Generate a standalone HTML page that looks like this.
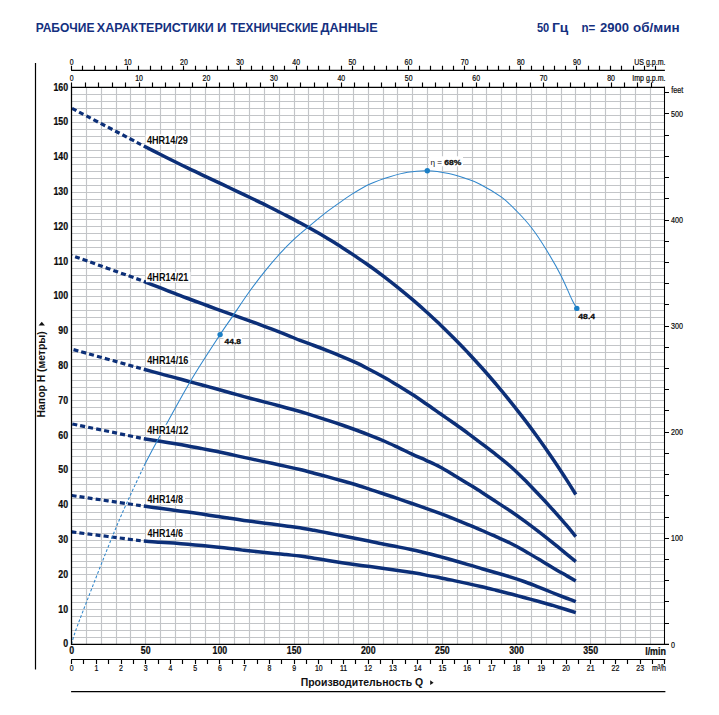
<!DOCTYPE html><html><head><meta charset="utf-8"><title>chart</title><style>html,body{margin:0;padding:0;background:#fff}svg{display:block}text{font-family:"Liberation Sans",sans-serif}</style></head><body>
<svg width="719" height="715" viewBox="0 0 719 715">
<rect width="719" height="715" fill="#fff"/>
<text x="35.70" y="31.8" font-size="13.2" font-weight="bold" fill="#14307f" textLength="58.80" lengthAdjust="spacingAndGlyphs">РАБОЧИЕ</text>
<text x="96.80" y="31.8" font-size="13.2" font-weight="bold" fill="#14307f" textLength="117.00" lengthAdjust="spacingAndGlyphs">ХАРАКТЕРИСТИКИ</text>
<text x="216.90" y="31.8" font-size="13.2" font-weight="bold" fill="#14307f" textLength="9.50" lengthAdjust="spacingAndGlyphs">И</text>
<text x="230.60" y="31.8" font-size="13.2" font-weight="bold" fill="#14307f" textLength="87.60" lengthAdjust="spacingAndGlyphs">ТЕХНИЧЕСКИЕ</text>
<text x="320.40" y="31.8" font-size="13.2" font-weight="bold" fill="#14307f" textLength="57.30" lengthAdjust="spacingAndGlyphs">ДАННЫЕ</text>
<text x="536.90" y="32" font-size="13.2" font-weight="bold" fill="#14307f" textLength="12.30" lengthAdjust="spacingAndGlyphs">50</text>
<text x="551.90" y="32" font-size="13.2" font-weight="bold" fill="#14307f" textLength="16.30" lengthAdjust="spacingAndGlyphs">Гц</text>
<text x="581.40" y="32" font-size="13.2" font-weight="bold" fill="#14307f" textLength="13.80" lengthAdjust="spacingAndGlyphs">n=</text>
<text x="600.10" y="32" font-size="13.2" font-weight="bold" fill="#14307f" textLength="29.00" lengthAdjust="spacingAndGlyphs">2900</text>
<text x="633.00" y="32" font-size="13.2" font-weight="bold" fill="#14307f" textLength="46.50" lengthAdjust="spacingAndGlyphs">об/мин</text>
<path d="M71.60 637.50H664.88M71.60 630.50H664.88M71.60 623.50H664.88M71.60 616.50H664.88M71.60 609.50H664.88M71.60 602.50H664.88M71.60 595.50H664.88M71.60 588.50H664.88M71.60 581.50H664.88M71.60 574.50H664.88M71.60 567.50H664.88M71.60 561.50H664.88M71.60 554.50H664.88M71.60 547.50H664.88M71.60 540.50H664.88M71.60 533.50H664.88M71.60 526.50H664.88M71.60 519.50H664.88M71.60 512.50H664.88M71.60 505.50H664.88M71.60 498.50H664.88M71.60 491.50H664.88M71.60 484.50H664.88M71.60 477.50H664.88M71.60 470.50H664.88M71.60 463.50H664.88M71.60 456.50H664.88M71.60 449.50H664.88M71.60 442.50H664.88M71.60 435.50H664.88M71.60 428.50H664.88M71.60 421.50H664.88M71.60 414.50H664.88M71.60 407.50H664.88M71.60 400.50H664.88M71.60 393.50H664.88M71.60 387.50H664.88M71.60 380.50H664.88M71.60 373.50H664.88M71.60 366.50H664.88M71.60 359.50H664.88M71.60 352.50H664.88M71.60 345.50H664.88M71.60 338.50H664.88M71.60 331.50H664.88M71.60 324.50H664.88M71.60 317.50H664.88M71.60 310.50H664.88M71.60 303.50H664.88M71.60 296.50H664.88M71.60 289.50H664.88M71.60 282.50H664.88M71.60 275.50H664.88M71.60 268.50H664.88M71.60 261.50H664.88M71.60 254.50H664.88M71.60 247.50H664.88M71.60 240.50H664.88M71.60 233.50H664.88M71.60 226.50H664.88M71.60 219.50H664.88M71.60 213.50H664.88M71.60 206.50H664.88M71.60 199.50H664.88M71.60 192.50H664.88M71.60 185.50H664.88M71.60 178.50H664.88M71.60 171.50H664.88M71.60 164.50H664.88M71.60 157.50H664.88M71.60 150.50H664.88M71.60 143.50H664.88M71.60 136.50H664.88M71.60 129.50H664.88M71.60 122.50H664.88M71.60 115.50H664.88M71.60 108.50H664.88M71.60 101.50H664.88M71.60 94.50H664.88M86.50 87.74V644.54M101.50 87.74V644.54M116.50 87.74V644.54M130.50 87.74V644.54M145.50 87.74V644.54M160.50 87.74V644.54M175.50 87.74V644.54M190.50 87.74V644.54M205.50 87.74V644.54M219.50 87.74V644.54M234.50 87.74V644.54M249.50 87.74V644.54M264.50 87.74V644.54M279.50 87.74V644.54M294.50 87.74V644.54M308.50 87.74V644.54M323.50 87.74V644.54M338.50 87.74V644.54M353.50 87.74V644.54M368.50 87.74V644.54M383.50 87.74V644.54M397.50 87.74V644.54M412.50 87.74V644.54M427.50 87.74V644.54M442.50 87.74V644.54M457.50 87.74V644.54M472.50 87.74V644.54M486.50 87.74V644.54M501.50 87.74V644.54M516.50 87.74V644.54M531.50 87.74V644.54M546.50 87.74V644.54M561.50 87.74V644.54M575.50 87.74V644.54M590.50 87.74V644.54M605.50 87.74V644.54M620.50 87.74V644.54M635.50 87.74V644.54M650.50 87.74V644.54" stroke="#c3c5c8" stroke-width="1.15" fill="none"/>
<path d="M35.5 63V669.6" stroke="#000" stroke-width="1.2"/>
<path d="M71.1 70.3H664.88M71.50 70.3v-4.5M82.50 70.3v-4.5M94.50 70.3v-4.5M105.50 70.3v-4.5M116.50 70.3v-4.5M127.50 70.3v-4.5M138.50 70.3v-4.5M150.50 70.3v-4.5M161.50 70.3v-4.5M172.50 70.3v-4.5M183.50 70.3v-4.5M195.50 70.3v-4.5M206.50 70.3v-4.5M217.50 70.3v-4.5M228.50 70.3v-4.5M240.50 70.3v-4.5M251.50 70.3v-4.5M262.50 70.3v-4.5M273.50 70.3v-4.5M284.50 70.3v-4.5M296.50 70.3v-4.5M307.50 70.3v-4.5M318.50 70.3v-4.5M329.50 70.3v-4.5M341.50 70.3v-4.5M352.50 70.3v-4.5M363.50 70.3v-4.5M374.50 70.3v-4.5M386.50 70.3v-4.5M397.50 70.3v-4.5M408.50 70.3v-4.5M419.50 70.3v-4.5M430.50 70.3v-4.5M442.50 70.3v-4.5M453.50 70.3v-4.5M464.50 70.3v-4.5M475.50 70.3v-4.5M487.50 70.3v-4.5M498.50 70.3v-4.5M509.50 70.3v-4.5M520.50 70.3v-4.5M531.50 70.3v-4.5M543.50 70.3v-4.5M554.50 70.3v-4.5M565.50 70.3v-4.5M576.50 70.3v-4.5M588.50 70.3v-4.5M599.50 70.3v-4.5M610.50 70.3v-4.5M621.50 70.3v-4.5M633.50 70.3v-4.5M644.50 70.3v-4.5M655.50 70.3v-4.5" stroke="#000" stroke-width="1.15" fill="none"/>
<path d="M71.50 87.45v-5.0M85.50 87.45v-5.0M98.50 87.45v-5.0M112.50 87.45v-5.0M125.50 87.45v-5.0M139.50 87.45v-5.0M152.50 87.45v-5.0M165.50 87.45v-5.0M179.50 87.45v-5.0M192.50 87.45v-5.0M206.50 87.45v-5.0M219.50 87.45v-5.0M233.50 87.45v-5.0M246.50 87.45v-5.0M260.50 87.45v-5.0M273.50 87.45v-5.0M287.50 87.45v-5.0M300.50 87.45v-5.0M314.50 87.45v-5.0M327.50 87.45v-5.0M341.50 87.45v-5.0M354.50 87.45v-5.0M368.50 87.45v-5.0M381.50 87.45v-5.0M395.50 87.45v-5.0M408.50 87.45v-5.0M422.50 87.45v-5.0M435.50 87.45v-5.0M449.50 87.45v-5.0M462.50 87.45v-5.0M476.50 87.45v-5.0M489.50 87.45v-5.0M503.50 87.45v-5.0M516.50 87.45v-5.0M530.50 87.45v-5.0M543.50 87.45v-5.0M557.50 87.45v-5.0M570.50 87.45v-5.0M584.50 87.45v-5.0M597.50 87.45v-5.0M611.50 87.45v-5.0M624.50 87.45v-5.0M637.50 87.45v-5.0M651.50 87.45v-5.0" stroke="#000" stroke-width="1.15" fill="none"/>
<path d="M664.5 644.50h4.5M664.5 623.50h4.5M664.5 601.50h4.5M664.5 580.50h4.5M664.5 559.50h4.5M664.5 538.50h4.5M664.5 517.50h4.5M664.5 495.50h4.5M664.5 474.50h4.5M664.5 453.50h4.5M664.5 432.50h4.5M664.5 410.50h4.5M664.5 389.50h4.5M664.5 368.50h4.5M664.5 347.50h4.5M664.5 326.50h4.5M664.5 304.50h4.5M664.5 283.50h4.5M664.5 262.50h4.5M664.5 241.50h4.5M664.5 220.50h4.5M664.5 198.50h4.5M664.5 177.50h4.5M664.5 156.50h4.5M664.5 135.50h4.5M664.5 113.50h4.5M664.5 92.50h4.5" stroke="#000" stroke-width="1.15" fill="none"/>
<path d="M71.1 659.5H665.38M71.50 659.5v4.5M83.50 659.5v4.5M96.50 659.5v4.5M108.50 659.5v4.5M121.50 659.5v4.5M133.50 659.5v4.5M145.50 659.5v4.5M158.50 659.5v4.5M170.50 659.5v4.5M182.50 659.5v4.5M195.50 659.5v4.5M207.50 659.5v4.5M219.50 659.5v4.5M232.50 659.5v4.5M244.50 659.5v4.5M257.50 659.5v4.5M269.50 659.5v4.5M281.50 659.5v4.5M294.50 659.5v4.5M306.50 659.5v4.5M318.50 659.5v4.5M331.50 659.5v4.5M343.50 659.5v4.5M355.50 659.5v4.5M368.50 659.5v4.5M380.50 659.5v4.5M392.50 659.5v4.5M405.50 659.5v4.5M417.50 659.5v4.5M430.50 659.5v4.5M442.50 659.5v4.5M454.50 659.5v4.5M467.50 659.5v4.5M479.50 659.5v4.5M491.50 659.5v4.5M504.50 659.5v4.5M516.50 659.5v4.5M528.50 659.5v4.5M541.50 659.5v4.5M553.50 659.5v4.5M566.50 659.5v4.5M578.50 659.5v4.5M590.50 659.5v4.5M603.50 659.5v4.5M615.50 659.5v4.5M627.50 659.5v4.5M640.50 659.5v4.5M652.50 659.5v4.5M664.50 659.5v4.5" stroke="#000" stroke-width="1.15" fill="none"/>
<path d="M71.1 691.6H665.38" stroke="#000" stroke-width="1.1"/>
<text transform="translate(68.10 646.80) scale(0.84 1)" font-size="10.5" font-weight="bold" text-anchor="end" fill="#0a0a0a" stroke="#0a0a0a" stroke-width="0.22">0</text>
<text transform="translate(68.10 612.64) scale(0.84 1)" font-size="10.5" font-weight="bold" text-anchor="end" fill="#0a0a0a" stroke="#0a0a0a" stroke-width="0.22">10</text>
<text transform="translate(68.10 577.84) scale(0.84 1)" font-size="10.5" font-weight="bold" text-anchor="end" fill="#0a0a0a" stroke="#0a0a0a" stroke-width="0.22">20</text>
<text transform="translate(68.10 543.04) scale(0.84 1)" font-size="10.5" font-weight="bold" text-anchor="end" fill="#0a0a0a" stroke="#0a0a0a" stroke-width="0.22">30</text>
<text transform="translate(68.10 508.24) scale(0.84 1)" font-size="10.5" font-weight="bold" text-anchor="end" fill="#0a0a0a" stroke="#0a0a0a" stroke-width="0.22">40</text>
<text transform="translate(68.10 473.44) scale(0.84 1)" font-size="10.5" font-weight="bold" text-anchor="end" fill="#0a0a0a" stroke="#0a0a0a" stroke-width="0.22">50</text>
<text transform="translate(68.10 438.64) scale(0.84 1)" font-size="10.5" font-weight="bold" text-anchor="end" fill="#0a0a0a" stroke="#0a0a0a" stroke-width="0.22">60</text>
<text transform="translate(68.10 403.84) scale(0.84 1)" font-size="10.5" font-weight="bold" text-anchor="end" fill="#0a0a0a" stroke="#0a0a0a" stroke-width="0.22">70</text>
<text transform="translate(68.10 369.04) scale(0.84 1)" font-size="10.5" font-weight="bold" text-anchor="end" fill="#0a0a0a" stroke="#0a0a0a" stroke-width="0.22">80</text>
<text transform="translate(68.10 334.24) scale(0.84 1)" font-size="10.5" font-weight="bold" text-anchor="end" fill="#0a0a0a" stroke="#0a0a0a" stroke-width="0.22">90</text>
<text transform="translate(68.10 299.44) scale(0.84 1)" font-size="10.5" font-weight="bold" text-anchor="end" fill="#0a0a0a" stroke="#0a0a0a" stroke-width="0.22">100</text>
<text transform="translate(68.10 264.64) scale(0.84 1)" font-size="10.5" font-weight="bold" text-anchor="end" fill="#0a0a0a" stroke="#0a0a0a" stroke-width="0.22">110</text>
<text transform="translate(68.10 229.84) scale(0.84 1)" font-size="10.5" font-weight="bold" text-anchor="end" fill="#0a0a0a" stroke="#0a0a0a" stroke-width="0.22">120</text>
<text transform="translate(68.10 195.04) scale(0.84 1)" font-size="10.5" font-weight="bold" text-anchor="end" fill="#0a0a0a" stroke="#0a0a0a" stroke-width="0.22">130</text>
<text transform="translate(68.10 160.24) scale(0.84 1)" font-size="10.5" font-weight="bold" text-anchor="end" fill="#0a0a0a" stroke="#0a0a0a" stroke-width="0.22">140</text>
<text transform="translate(68.10 125.44) scale(0.84 1)" font-size="10.5" font-weight="bold" text-anchor="end" fill="#0a0a0a" stroke="#0a0a0a" stroke-width="0.22">150</text>
<text transform="translate(68.10 90.64) scale(0.84 1)" font-size="10.5" font-weight="bold" text-anchor="end" fill="#0a0a0a" stroke="#0a0a0a" stroke-width="0.22">160</text>
<text transform="translate(71.60 653.80) scale(0.84 1)" font-size="10.5" font-weight="bold" text-anchor="middle" fill="#0a0a0a" stroke="#0a0a0a" stroke-width="0.22">0</text>
<text transform="translate(145.76 653.80) scale(0.84 1)" font-size="10.5" font-weight="bold" text-anchor="middle" fill="#0a0a0a" stroke="#0a0a0a" stroke-width="0.22">50</text>
<text transform="translate(219.92 653.80) scale(0.84 1)" font-size="10.5" font-weight="bold" text-anchor="middle" fill="#0a0a0a" stroke="#0a0a0a" stroke-width="0.22">100</text>
<text transform="translate(294.08 653.80) scale(0.84 1)" font-size="10.5" font-weight="bold" text-anchor="middle" fill="#0a0a0a" stroke="#0a0a0a" stroke-width="0.22">150</text>
<text transform="translate(368.24 653.80) scale(0.84 1)" font-size="10.5" font-weight="bold" text-anchor="middle" fill="#0a0a0a" stroke="#0a0a0a" stroke-width="0.22">200</text>
<text transform="translate(442.40 653.80) scale(0.84 1)" font-size="10.5" font-weight="bold" text-anchor="middle" fill="#0a0a0a" stroke="#0a0a0a" stroke-width="0.22">250</text>
<text transform="translate(516.56 653.80) scale(0.84 1)" font-size="10.5" font-weight="bold" text-anchor="middle" fill="#0a0a0a" stroke="#0a0a0a" stroke-width="0.22">300</text>
<text transform="translate(590.72 653.80) scale(0.84 1)" font-size="10.5" font-weight="bold" text-anchor="middle" fill="#0a0a0a" stroke="#0a0a0a" stroke-width="0.22">350</text>
<text transform="translate(666.00 654.60) scale(0.86 1)" font-size="10.4" font-weight="bold" text-anchor="end" fill="#0a0a0a" stroke="#0a0a0a" stroke-width="0.22">l/min</text>
<text transform="translate(71.60 64.80) scale(0.82 1)" font-size="8.5" font-weight="normal" text-anchor="middle" fill="#0a0a0a" stroke="#0a0a0a" stroke-width="0.22">0</text>
<text transform="translate(127.75 64.80) scale(0.82 1)" font-size="8.5" font-weight="normal" text-anchor="middle" fill="#0a0a0a" stroke="#0a0a0a" stroke-width="0.22">10</text>
<text transform="translate(183.89 64.80) scale(0.82 1)" font-size="8.5" font-weight="normal" text-anchor="middle" fill="#0a0a0a" stroke="#0a0a0a" stroke-width="0.22">20</text>
<text transform="translate(240.04 64.80) scale(0.82 1)" font-size="8.5" font-weight="normal" text-anchor="middle" fill="#0a0a0a" stroke="#0a0a0a" stroke-width="0.22">30</text>
<text transform="translate(296.18 64.80) scale(0.82 1)" font-size="8.5" font-weight="normal" text-anchor="middle" fill="#0a0a0a" stroke="#0a0a0a" stroke-width="0.22">40</text>
<text transform="translate(352.33 64.80) scale(0.82 1)" font-size="8.5" font-weight="normal" text-anchor="middle" fill="#0a0a0a" stroke="#0a0a0a" stroke-width="0.22">50</text>
<text transform="translate(408.47 64.80) scale(0.82 1)" font-size="8.5" font-weight="normal" text-anchor="middle" fill="#0a0a0a" stroke="#0a0a0a" stroke-width="0.22">60</text>
<text transform="translate(464.62 64.80) scale(0.82 1)" font-size="8.5" font-weight="normal" text-anchor="middle" fill="#0a0a0a" stroke="#0a0a0a" stroke-width="0.22">70</text>
<text transform="translate(520.76 64.80) scale(0.82 1)" font-size="8.5" font-weight="normal" text-anchor="middle" fill="#0a0a0a" stroke="#0a0a0a" stroke-width="0.22">80</text>
<text transform="translate(576.91 64.80) scale(0.82 1)" font-size="8.5" font-weight="normal" text-anchor="middle" fill="#0a0a0a" stroke="#0a0a0a" stroke-width="0.22">90</text>
<text transform="translate(665.50 64.80) scale(0.84 1)" font-size="8.4" font-weight="normal" text-anchor="end" fill="#0a0a0a" stroke="#0a0a0a" stroke-width="0.22">US g.p.m.</text>
<text transform="translate(71.60 80.80) scale(0.82 1)" font-size="8.5" font-weight="normal" text-anchor="middle" fill="#0a0a0a" stroke="#0a0a0a" stroke-width="0.22">0</text>
<text transform="translate(139.03 80.80) scale(0.82 1)" font-size="8.5" font-weight="normal" text-anchor="middle" fill="#0a0a0a" stroke="#0a0a0a" stroke-width="0.22">10</text>
<text transform="translate(206.45 80.80) scale(0.82 1)" font-size="8.5" font-weight="normal" text-anchor="middle" fill="#0a0a0a" stroke="#0a0a0a" stroke-width="0.22">20</text>
<text transform="translate(273.88 80.80) scale(0.82 1)" font-size="8.5" font-weight="normal" text-anchor="middle" fill="#0a0a0a" stroke="#0a0a0a" stroke-width="0.22">30</text>
<text transform="translate(341.31 80.80) scale(0.82 1)" font-size="8.5" font-weight="normal" text-anchor="middle" fill="#0a0a0a" stroke="#0a0a0a" stroke-width="0.22">40</text>
<text transform="translate(408.73 80.80) scale(0.82 1)" font-size="8.5" font-weight="normal" text-anchor="middle" fill="#0a0a0a" stroke="#0a0a0a" stroke-width="0.22">50</text>
<text transform="translate(476.16 80.80) scale(0.82 1)" font-size="8.5" font-weight="normal" text-anchor="middle" fill="#0a0a0a" stroke="#0a0a0a" stroke-width="0.22">60</text>
<text transform="translate(543.58 80.80) scale(0.82 1)" font-size="8.5" font-weight="normal" text-anchor="middle" fill="#0a0a0a" stroke="#0a0a0a" stroke-width="0.22">70</text>
<text transform="translate(611.01 80.80) scale(0.82 1)" font-size="8.5" font-weight="normal" text-anchor="middle" fill="#0a0a0a" stroke="#0a0a0a" stroke-width="0.22">80</text>
<text transform="translate(665.50 80.90) scale(0.84 1)" font-size="8.4" font-weight="normal" text-anchor="end" fill="#0a0a0a" stroke="#0a0a0a" stroke-width="0.22">Imp g.p.m.</text>
<text transform="translate(71.60 671.00) scale(0.82 1)" font-size="8.5" font-weight="normal" text-anchor="middle" fill="#0a0a0a" stroke="#0a0a0a" stroke-width="0.22">0</text>
<text transform="translate(96.32 671.00) scale(0.82 1)" font-size="8.5" font-weight="normal" text-anchor="middle" fill="#0a0a0a" stroke="#0a0a0a" stroke-width="0.22">1</text>
<text transform="translate(121.04 671.00) scale(0.82 1)" font-size="8.5" font-weight="normal" text-anchor="middle" fill="#0a0a0a" stroke="#0a0a0a" stroke-width="0.22">2</text>
<text transform="translate(145.76 671.00) scale(0.82 1)" font-size="8.5" font-weight="normal" text-anchor="middle" fill="#0a0a0a" stroke="#0a0a0a" stroke-width="0.22">3</text>
<text transform="translate(170.48 671.00) scale(0.82 1)" font-size="8.5" font-weight="normal" text-anchor="middle" fill="#0a0a0a" stroke="#0a0a0a" stroke-width="0.22">4</text>
<text transform="translate(195.20 671.00) scale(0.82 1)" font-size="8.5" font-weight="normal" text-anchor="middle" fill="#0a0a0a" stroke="#0a0a0a" stroke-width="0.22">5</text>
<text transform="translate(219.92 671.00) scale(0.82 1)" font-size="8.5" font-weight="normal" text-anchor="middle" fill="#0a0a0a" stroke="#0a0a0a" stroke-width="0.22">6</text>
<text transform="translate(244.64 671.00) scale(0.82 1)" font-size="8.5" font-weight="normal" text-anchor="middle" fill="#0a0a0a" stroke="#0a0a0a" stroke-width="0.22">7</text>
<text transform="translate(269.36 671.00) scale(0.82 1)" font-size="8.5" font-weight="normal" text-anchor="middle" fill="#0a0a0a" stroke="#0a0a0a" stroke-width="0.22">8</text>
<text transform="translate(294.08 671.00) scale(0.82 1)" font-size="8.5" font-weight="normal" text-anchor="middle" fill="#0a0a0a" stroke="#0a0a0a" stroke-width="0.22">9</text>
<text transform="translate(318.80 671.00) scale(0.82 1)" font-size="8.5" font-weight="normal" text-anchor="middle" fill="#0a0a0a" stroke="#0a0a0a" stroke-width="0.22">10</text>
<text transform="translate(343.52 671.00) scale(0.82 1)" font-size="8.5" font-weight="normal" text-anchor="middle" fill="#0a0a0a" stroke="#0a0a0a" stroke-width="0.22">11</text>
<text transform="translate(368.24 671.00) scale(0.82 1)" font-size="8.5" font-weight="normal" text-anchor="middle" fill="#0a0a0a" stroke="#0a0a0a" stroke-width="0.22">12</text>
<text transform="translate(392.96 671.00) scale(0.82 1)" font-size="8.5" font-weight="normal" text-anchor="middle" fill="#0a0a0a" stroke="#0a0a0a" stroke-width="0.22">13</text>
<text transform="translate(417.68 671.00) scale(0.82 1)" font-size="8.5" font-weight="normal" text-anchor="middle" fill="#0a0a0a" stroke="#0a0a0a" stroke-width="0.22">14</text>
<text transform="translate(442.40 671.00) scale(0.82 1)" font-size="8.5" font-weight="normal" text-anchor="middle" fill="#0a0a0a" stroke="#0a0a0a" stroke-width="0.22">15</text>
<text transform="translate(467.12 671.00) scale(0.82 1)" font-size="8.5" font-weight="normal" text-anchor="middle" fill="#0a0a0a" stroke="#0a0a0a" stroke-width="0.22">16</text>
<text transform="translate(491.84 671.00) scale(0.82 1)" font-size="8.5" font-weight="normal" text-anchor="middle" fill="#0a0a0a" stroke="#0a0a0a" stroke-width="0.22">17</text>
<text transform="translate(516.56 671.00) scale(0.82 1)" font-size="8.5" font-weight="normal" text-anchor="middle" fill="#0a0a0a" stroke="#0a0a0a" stroke-width="0.22">18</text>
<text transform="translate(541.28 671.00) scale(0.82 1)" font-size="8.5" font-weight="normal" text-anchor="middle" fill="#0a0a0a" stroke="#0a0a0a" stroke-width="0.22">19</text>
<text transform="translate(566.00 671.00) scale(0.82 1)" font-size="8.5" font-weight="normal" text-anchor="middle" fill="#0a0a0a" stroke="#0a0a0a" stroke-width="0.22">20</text>
<text transform="translate(590.72 671.00) scale(0.82 1)" font-size="8.5" font-weight="normal" text-anchor="middle" fill="#0a0a0a" stroke="#0a0a0a" stroke-width="0.22">21</text>
<text transform="translate(615.44 671.00) scale(0.82 1)" font-size="8.5" font-weight="normal" text-anchor="middle" fill="#0a0a0a" stroke="#0a0a0a" stroke-width="0.22">22</text>
<text transform="translate(640.16 671.00) scale(0.82 1)" font-size="8.5" font-weight="normal" text-anchor="middle" fill="#0a0a0a" stroke="#0a0a0a" stroke-width="0.22">23</text>
<text transform="translate(666.00 671.00) scale(0.8 1)" font-size="8.8" font-weight="normal" text-anchor="end" fill="#0a0a0a" stroke="#0a0a0a" stroke-width="0.22">m³/h</text>
<text transform="translate(671.00 648.34) scale(0.81 1)" font-size="8.8" font-weight="normal" text-anchor="start" fill="#0a0a0a" stroke="#0a0a0a" stroke-width="0.22">0</text>
<text transform="translate(671.00 541.07) scale(0.81 1)" font-size="8.8" font-weight="normal" text-anchor="start" fill="#0a0a0a" stroke="#0a0a0a" stroke-width="0.22">100</text>
<text transform="translate(671.00 435.00) scale(0.81 1)" font-size="8.8" font-weight="normal" text-anchor="start" fill="#0a0a0a" stroke="#0a0a0a" stroke-width="0.22">200</text>
<text transform="translate(671.00 328.93) scale(0.81 1)" font-size="8.8" font-weight="normal" text-anchor="start" fill="#0a0a0a" stroke="#0a0a0a" stroke-width="0.22">300</text>
<text transform="translate(671.00 222.86) scale(0.81 1)" font-size="8.8" font-weight="normal" text-anchor="start" fill="#0a0a0a" stroke="#0a0a0a" stroke-width="0.22">400</text>
<text transform="translate(671.00 116.79) scale(0.81 1)" font-size="8.8" font-weight="normal" text-anchor="start" fill="#0a0a0a" stroke="#0a0a0a" stroke-width="0.22">500</text>
<text transform="translate(671.20 92.90) scale(0.78 1)" font-size="9.2" font-weight="normal" text-anchor="start" fill="#0a0a0a" stroke="#0a0a0a" stroke-width="0.22">feet</text>
<text transform="translate(44.7 417.4) rotate(-90)" font-size="10.2" font-weight="bold" fill="#111" textLength="86" lengthAdjust="spacingAndGlyphs">Напор H (метры)</text>
<path d="M38.6 325.4L44.9 325.4L41.75 321.8Z" fill="#111"/>
<text x="300.7" y="686.1" font-size="10.4" font-weight="bold" fill="#111" textLength="122.4" lengthAdjust="spacingAndGlyphs">Производительность Q</text>
<path d="M430.2 680.3L430.2 685.1L433.6 682.7Z" fill="#111"/>
<path d="M143.8 146.0C131.8 139.7 83.8 114.5 71.8 108.3" stroke="#0c2f78" stroke-width="3.2" fill="none" stroke-dasharray="5 3.1" stroke-dashoffset="5"/>
<path d="M143.8 146.0C146.5 147.4 155.0 151.7 160.0 154.3C165.0 156.8 169.3 159.0 174.0 161.3C178.7 163.6 183.3 165.8 188.0 168.1C192.7 170.3 197.3 172.6 202.0 174.8C206.7 177.0 211.3 179.2 216.0 181.4C220.7 183.6 225.3 185.8 230.0 188.0C234.7 190.2 239.3 192.4 244.0 194.6C248.7 196.9 253.3 199.1 258.0 201.4C262.7 203.6 267.3 205.9 272.0 208.2C276.7 210.6 281.3 212.9 286.0 215.4C290.7 217.8 295.3 220.3 300.0 222.8C304.7 225.3 309.3 227.9 314.0 230.6C318.7 233.2 323.3 235.9 328.0 238.7C332.7 241.6 337.3 244.4 342.0 247.4C346.7 250.4 351.3 253.4 356.0 256.6C360.7 259.7 365.3 263.0 370.0 266.3C374.7 269.7 379.3 273.1 384.0 276.6C388.7 280.2 393.3 283.8 398.0 287.6C402.7 291.4 407.3 295.2 412.0 299.2C416.7 303.2 421.3 307.3 426.0 311.5C430.7 315.7 435.3 320.1 440.0 324.5C444.7 329.0 449.3 333.6 454.0 338.3C458.7 343.0 463.3 347.8 468.0 352.7C472.7 357.7 477.3 362.8 482.0 368.0C486.7 373.2 491.3 378.6 496.0 384.1C500.7 389.6 505.3 395.2 510.0 401.1C514.7 406.9 519.3 412.8 524.0 418.9C528.7 425.0 533.3 431.3 538.0 437.8C542.7 444.3 547.3 450.9 552.0 457.8C556.7 464.6 562.0 472.8 566.0 478.9C570.0 485.1 574.2 491.9 575.8 494.5" stroke="#0c2f78" stroke-width="3.5" fill="none"/>
<path d="M143.8 281.3C131.8 277.0 83.8 259.8 71.8 255.5" stroke="#0c2f78" stroke-width="3.2" fill="none" stroke-dasharray="5 3.1" stroke-dashoffset="5"/>
<path d="M143.8 281.3C146.5 282.4 155.0 285.8 160.0 287.7C165.0 289.7 169.3 291.4 174.0 293.2C178.7 295.0 183.3 296.8 188.0 298.5C192.7 300.3 197.3 302.0 202.0 303.7C206.7 305.4 211.3 307.1 216.0 308.8C220.7 310.5 225.3 312.1 230.0 313.8C234.7 315.5 239.3 317.1 244.0 318.8C248.7 320.5 253.3 322.2 258.0 323.9C262.7 325.7 267.3 327.4 272.0 329.2C276.7 331.0 281.3 332.8 286.0 334.7C290.7 336.5 295.3 338.5 300.0 340.3C304.7 342.1 309.3 343.7 314.0 345.5C318.7 347.2 323.3 349.0 328.0 350.9C332.7 352.7 337.3 354.6 342.0 356.6C346.7 358.5 351.3 360.5 356.0 362.7C360.7 364.9 365.3 367.3 370.0 369.7C374.7 372.1 379.3 374.6 384.0 377.2C388.7 379.8 393.3 382.7 398.0 385.5C402.7 388.4 407.3 391.3 412.0 394.3C416.7 397.3 421.3 400.5 426.0 403.7C430.7 406.9 435.3 410.2 440.0 413.5C444.7 416.8 449.3 419.9 454.0 423.2C458.7 426.5 463.3 429.9 468.0 433.3C472.7 436.8 477.3 440.4 482.0 443.9C486.7 447.5 491.3 450.9 496.0 454.6C500.7 458.3 505.3 461.9 510.0 466.0C514.7 470.1 519.3 474.6 524.0 479.3C528.7 483.9 533.3 488.9 538.0 493.8C542.7 498.7 547.3 503.6 552.0 508.8C556.7 513.9 562.0 520.1 566.0 524.7C570.0 529.4 574.2 534.7 575.8 536.7" stroke="#0c2f78" stroke-width="3.5" fill="none"/>
<path d="M143.8 369.3C131.8 365.9 83.8 352.5 71.8 349.1" stroke="#0c2f78" stroke-width="3.2" fill="none" stroke-dasharray="5 3.1" stroke-dashoffset="5"/>
<path d="M143.8 369.3C146.5 370.0 155.0 372.3 160.0 373.6C165.0 375.0 169.3 376.2 174.0 377.4C178.7 378.7 183.3 379.9 188.0 381.2C192.7 382.5 197.3 383.7 202.0 385.0C206.7 386.3 211.3 387.5 216.0 388.8C220.7 390.1 225.3 391.4 230.0 392.7C234.7 394.0 239.3 395.3 244.0 396.6C248.7 397.8 253.3 399.1 258.0 400.3C262.7 401.5 267.3 402.7 272.0 403.9C276.7 405.2 281.3 406.4 286.0 407.7C290.7 408.9 295.3 410.1 300.0 411.5C304.7 412.9 309.3 414.4 314.0 415.8C318.7 417.3 323.3 418.8 328.0 420.3C332.7 421.9 337.3 423.4 342.0 425.0C346.7 426.7 351.3 428.3 356.0 430.0C360.7 431.7 365.3 433.5 370.0 435.4C374.7 437.2 379.3 439.0 384.0 441.0C388.7 443.0 393.3 445.2 398.0 447.4C402.7 449.6 407.3 451.9 412.0 454.1C416.7 456.3 421.3 458.2 426.0 460.3C430.7 462.5 435.3 464.5 440.0 467.0C444.7 469.5 449.3 472.4 454.0 475.2C458.7 478.0 463.3 480.9 468.0 483.7C472.7 486.6 477.3 489.4 482.0 492.4C486.7 495.4 491.3 498.5 496.0 501.6C500.7 504.6 505.3 507.7 510.0 510.8C514.7 514.0 519.3 517.2 524.0 520.6C528.7 524.0 533.3 527.5 538.0 531.1C542.7 534.7 547.3 538.4 552.0 542.2C556.7 545.9 562.0 550.4 566.0 553.6C570.0 556.8 574.2 560.3 575.8 561.6" stroke="#0c2f78" stroke-width="3.5" fill="none"/>
<path d="M143.8 438.7C131.8 436.2 83.8 426.4 71.8 423.9" stroke="#0c2f78" stroke-width="3.2" fill="none" stroke-dasharray="5 3.1" stroke-dashoffset="5"/>
<path d="M143.8 438.7C146.5 439.1 155.0 440.4 160.0 441.2C165.0 442.0 169.3 442.7 174.0 443.5C178.7 444.3 183.3 445.1 188.0 446.0C192.7 446.8 197.3 447.7 202.0 448.6C206.7 449.5 211.3 450.4 216.0 451.3C220.7 452.3 225.3 453.3 230.0 454.3C234.7 455.3 239.3 456.4 244.0 457.4C248.7 458.4 253.3 459.4 258.0 460.4C262.7 461.4 267.3 462.3 272.0 463.3C276.7 464.3 281.3 465.3 286.0 466.4C290.7 467.4 295.3 468.4 300.0 469.5C304.7 470.6 309.3 471.9 314.0 473.2C318.7 474.4 323.3 475.7 328.0 476.9C332.7 478.2 337.3 479.5 342.0 480.8C346.7 482.1 351.3 483.4 356.0 484.8C360.7 486.2 365.3 487.8 370.0 489.3C374.7 490.8 379.3 492.4 384.0 494.0C388.7 495.5 393.3 497.0 398.0 498.6C402.7 500.2 407.3 501.9 412.0 503.5C416.7 505.1 421.3 506.7 426.0 508.3C430.7 510.0 435.3 511.7 440.0 513.4C444.7 515.1 449.3 516.9 454.0 518.8C458.7 520.7 463.3 522.6 468.0 524.6C472.7 526.5 477.3 528.5 482.0 530.5C486.7 532.5 491.3 534.6 496.0 536.7C500.7 538.8 505.3 540.7 510.0 543.0C514.7 545.3 519.3 547.8 524.0 550.5C528.7 553.1 533.3 556.1 538.0 558.8C542.7 561.6 547.3 564.5 552.0 567.2C556.7 570.0 562.0 573.0 566.0 575.3C570.0 577.6 574.2 580.1 575.8 581.0" stroke="#0c2f78" stroke-width="3.5" fill="none"/>
<path d="M143.8 506.1C131.8 504.4 83.8 497.3 71.8 495.5" stroke="#0c2f78" stroke-width="3.2" fill="none" stroke-dasharray="5 3.1" stroke-dashoffset="5"/>
<path d="M143.8 506.1C146.5 506.5 155.0 507.6 160.0 508.3C165.0 509.0 169.3 509.6 174.0 510.2C178.7 510.8 183.3 511.5 188.0 512.1C192.7 512.8 197.3 513.4 202.0 514.1C206.7 514.8 211.3 515.5 216.0 516.2C220.7 516.8 225.3 517.5 230.0 518.2C234.7 518.9 239.3 519.7 244.0 520.4C248.7 521.0 253.3 521.7 258.0 522.3C262.7 522.9 267.3 523.5 272.0 524.1C276.7 524.7 281.3 525.3 286.0 525.9C290.7 526.5 295.3 527.0 300.0 527.7C304.7 528.5 309.3 529.4 314.0 530.3C318.7 531.2 323.3 532.1 328.0 533.0C332.7 533.9 337.3 534.8 342.0 535.7C346.7 536.6 351.3 537.5 356.0 538.5C360.7 539.4 365.3 540.3 370.0 541.3C374.7 542.3 379.3 543.3 384.0 544.2C388.7 545.2 393.3 546.0 398.0 546.9C402.7 547.8 407.3 548.7 412.0 549.7C416.7 550.7 421.3 551.9 426.0 553.0C430.7 554.2 435.3 555.3 440.0 556.6C444.7 557.9 449.3 559.2 454.0 560.5C458.7 561.9 463.3 563.2 468.0 564.6C472.7 565.9 477.3 567.3 482.0 568.7C486.7 570.1 491.3 571.4 496.0 572.8C500.7 574.1 505.3 575.4 510.0 576.9C514.7 578.3 519.3 579.8 524.0 581.5C528.7 583.2 533.3 585.0 538.0 586.8C542.7 588.7 547.3 590.6 552.0 592.5C556.7 594.3 562.0 596.4 566.0 598.0C570.0 599.5 574.2 601.0 575.8 601.7" stroke="#0c2f78" stroke-width="3.5" fill="none"/>
<path d="M143.8 541.1C131.8 539.6 83.8 533.4 71.8 531.9" stroke="#0c2f78" stroke-width="3.2" fill="none" stroke-dasharray="5 3.1" stroke-dashoffset="5"/>
<path d="M143.8 541.1C146.5 541.3 155.0 541.8 160.0 542.2C165.0 542.5 169.3 542.8 174.0 543.1C178.7 543.5 183.3 543.9 188.0 544.3C192.7 544.7 197.3 545.1 202.0 545.5C206.7 546.0 211.3 546.5 216.0 547.0C220.7 547.5 225.3 548.0 230.0 548.6C234.7 549.1 239.3 549.7 244.0 550.3C248.7 550.8 253.3 551.3 258.0 551.8C262.7 552.3 267.3 552.7 272.0 553.2C276.7 553.6 281.3 554.1 286.0 554.6C290.7 555.1 295.3 555.4 300.0 556.0C304.7 556.6 309.3 557.5 314.0 558.2C318.7 559.0 323.3 559.7 328.0 560.5C332.7 561.2 337.3 561.9 342.0 562.7C346.7 563.4 351.3 564.1 356.0 564.8C360.7 565.4 365.3 566.0 370.0 566.6C374.7 567.2 379.3 567.8 384.0 568.4C388.7 569.1 393.3 569.8 398.0 570.5C402.7 571.2 407.3 571.9 412.0 572.6C416.7 573.4 421.3 574.2 426.0 575.1C430.7 575.9 435.3 576.8 440.0 577.7C444.7 578.6 449.3 579.6 454.0 580.6C458.7 581.6 463.3 582.6 468.0 583.6C472.7 584.6 477.3 585.6 482.0 586.7C486.7 587.8 491.3 589.0 496.0 590.2C500.7 591.4 505.3 592.5 510.0 593.7C514.7 594.9 519.3 596.2 524.0 597.5C528.7 598.8 533.3 600.0 538.0 601.3C542.7 602.6 547.3 603.9 552.0 605.2C556.7 606.6 562.0 608.3 566.0 609.5C570.0 610.8 574.2 612.1 575.8 612.6" stroke="#0c2f78" stroke-width="3.5" fill="none"/>
<path d="M71.5 644.3C72.8 640.2 72.2 639.4 79.6 620.0C87.0 600.6 105.3 553.4 116.0 527.7C126.7 502.0 139.3 476.3 144.0 466.0" stroke="#2f86cc" stroke-width="1.05" fill="none" stroke-dasharray="2.8 1.9"/>
<path d="M144.0 466.0C146.3 461.6 150.3 453.6 158.0 439.6C165.7 425.6 179.7 399.5 190.0 382.0C200.3 364.5 213.0 345.5 220.1 334.6C227.2 323.7 227.6 323.7 232.4 316.6C237.2 309.5 243.8 299.4 249.1 292.0C254.4 284.6 259.3 278.2 264.4 271.9C269.4 265.6 274.5 259.6 279.4 254.2C284.3 248.8 289.1 243.9 293.9 239.4C298.7 234.9 303.5 231.0 308.4 226.9C313.2 222.8 318.0 218.7 323.0 214.8C328.0 210.9 333.6 207.0 338.6 203.4C343.6 199.8 348.0 196.6 353.2 193.4C358.4 190.2 363.9 186.8 370.0 184.0C376.1 181.2 383.7 178.6 390.0 176.7C396.3 174.8 401.4 173.3 407.6 172.3C413.8 171.3 420.5 170.6 427.3 170.8C434.1 171.0 442.4 172.3 448.7 173.6C455.0 174.8 459.8 176.5 465.0 178.3C470.2 180.1 473.9 181.0 480.0 184.2C486.1 187.3 495.4 192.7 501.5 197.2C507.6 201.7 511.5 205.8 516.6 211.0C521.7 216.2 526.9 221.7 531.9 228.2C536.9 234.7 541.7 242.2 546.6 250.2C551.5 258.2 557.1 267.9 561.3 276.2C565.5 284.5 569.4 294.4 572.0 299.8C574.6 305.2 576.0 306.9 576.8 308.3" stroke="#2f86cc" stroke-width="1.05" fill="none"/>
<circle cx="220.1" cy="334.6" r="2.7" fill="#1b7fc6"/>
<circle cx="427.3" cy="170.8" r="2.7" fill="#1b7fc6"/>
<circle cx="576.8" cy="308.4" r="2.7" fill="#1b7fc6"/>
<path d="M71.50 86.85V644.90M71.6 87.45H665M71.6 644.3H669" stroke="#000" stroke-width="1.25" fill="none"/><path d="M664.5 86.85V644.90" stroke="#000" stroke-width="1.05" fill="none"/>
<rect x="145.6" y="134.4" width="44.5" height="10.4" fill="#fff"/>
<text x="146.9" y="143.7" font-size="10.4" font-weight="bold" fill="#0a0a0a" textLength="41" lengthAdjust="spacingAndGlyphs">4HR14/29</text>
<rect x="146.0" y="271.8" width="44.5" height="10.4" fill="#fff"/>
<text x="147.3" y="281.1" font-size="10.4" font-weight="bold" fill="#0a0a0a" textLength="41" lengthAdjust="spacingAndGlyphs">4HR14/21</text>
<rect x="146.0" y="354.8" width="44.5" height="10.4" fill="#fff"/>
<text x="147.3" y="364.1" font-size="10.4" font-weight="bold" fill="#0a0a0a" textLength="41" lengthAdjust="spacingAndGlyphs">4HR14/16</text>
<rect x="146.0" y="424.7" width="44.5" height="10.4" fill="#fff"/>
<text x="147.3" y="434.0" font-size="10.4" font-weight="bold" fill="#0a0a0a" textLength="41" lengthAdjust="spacingAndGlyphs">4HR14/12</text>
<rect x="146.3" y="493.2" width="38.8" height="10.4" fill="#fff"/>
<text x="147.6" y="502.5" font-size="10.4" font-weight="bold" fill="#0a0a0a" textLength="35.3" lengthAdjust="spacingAndGlyphs">4HR14/8</text>
<rect x="146.3" y="527.7" width="38.8" height="10.4" fill="#fff"/>
<text x="147.6" y="537.0" font-size="10.4" font-weight="bold" fill="#0a0a0a" textLength="35.3" lengthAdjust="spacingAndGlyphs">4HR14/6</text>
<rect x="429" y="156.3" width="34" height="10" fill="#fff"/>
<text x="430.5" y="164.8" font-size="8" fill="#111" textLength="11.5" lengthAdjust="spacingAndGlyphs">η =</text>
<text x="444.3" y="164.8" font-size="7" font-weight="bold" fill="#111" stroke="#111" stroke-width="0.3" textLength="17" lengthAdjust="spacingAndGlyphs">68%</text>
<rect x="577.5" y="312.5" width="18.5" height="7.5" fill="#fff"/>
<text x="578.3" y="319" font-size="7" font-weight="bold" fill="#111" stroke="#111" stroke-width="0.3" textLength="16.8" lengthAdjust="spacingAndGlyphs">48.4</text>
<rect x="223.5" y="337.5" width="18.5" height="7.5" fill="#fff"/>
<text x="224.6" y="343.9" font-size="7" font-weight="bold" fill="#111" stroke="#111" stroke-width="0.3" textLength="16.4" lengthAdjust="spacingAndGlyphs">44.8</text>
</svg></body></html>
